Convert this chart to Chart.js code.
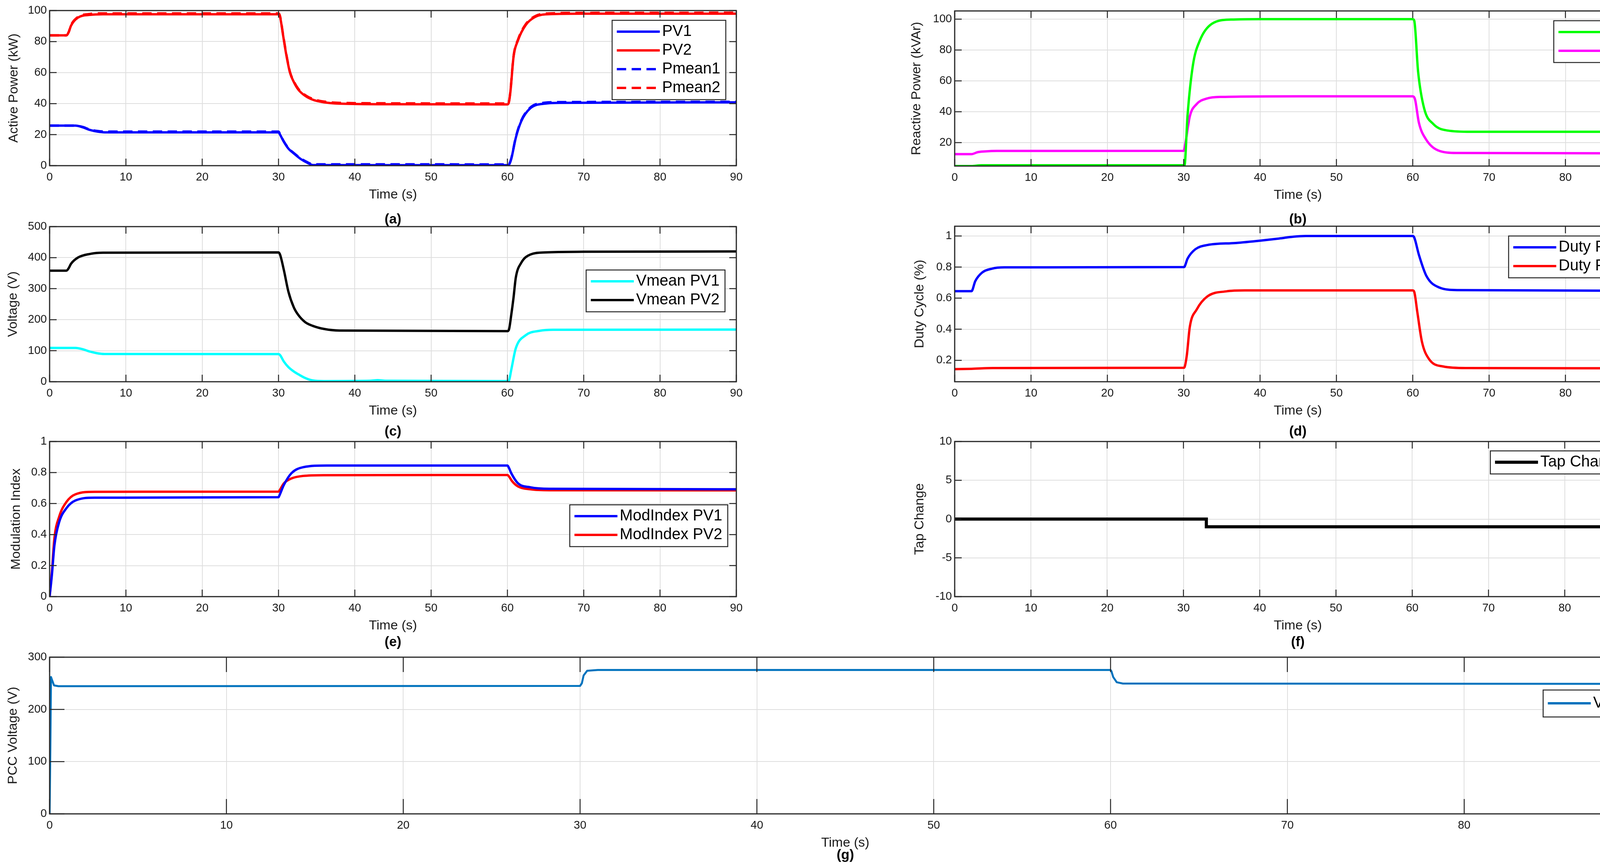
<!DOCTYPE html>
<html>
<head>
<meta charset="utf-8">
<script src="https://cdn.jsdelivr.net/npm/chart.js@4.4.1/dist/chart.umd.min.js"></script>
<style>
  html, body { margin: 0; padding: 0; background: #fff; width: 4235px; height: 2219px; overflow: hidden; }
  canvas { position: absolute; }
</style>
</head>
<body>
<canvas id="pa"></canvas>
<canvas id="pb"></canvas>
<canvas id="pc"></canvas>
<canvas id="pd"></canvas>
<canvas id="pe"></canvas>
<canvas id="pf"></canvas>
<canvas id="pg"></canvas>
<script>
// ---- tick labels ----
const xTicksFull = [0, 10, 20, 30, 40, 50, 60, 70, 80, 90];
const xTicksShort = [0, 10, 20, 30, 40, 50, 60, 70, 80];
const yTicksA = [0, 20, 40, 60, 80, 100];
const yTicksB = [20, 40, 60, 80, 100];
const yTicksC = [0, 100, 200, 300, 400, 500];
const yTicksD = [0.2, 0.4, 0.6, 0.8, 1];
const yTicksE = [0, 0.2, 0.4, 0.6, 0.8, 1];
const yTicksF = [-10, -5, 0, 5, 10];
const yTicksG = [0, 100, 200, 300];

// ---- (a) active power (kW) ----
const tP1 = [0, 3.4, 4.3, 5.3, 6.2, 7.2, 30, 30.2, 30.7, 31.3, 32, 33, 33.8, 34.5, 45, 60, 60.2, 60.5, 61.1, 61.8, 63, 64.9, 67, 90];
const pv1 = [25.8, 25.8, 24.8, 23, 22, 21.5, 21.5, 20, 15.4, 11, 7.9, 4, 1.8, 0.4, 0.3, 0.3, 0.6, 4.3, 18, 28.5, 37, 40, 40.5, 40.8];
const pmean1 = [25.8, 25.8, 25, 23.3, 22.4, 22, 22, 20.3, 15.6, 11.3, 8.2, 4.4, 2.2, 0.9, 0.9, 0.8, 1, 4.6, 18.4, 29, 37.5, 40.6, 41, 41.2];
const tP2 = [0, 2.2, 2.5, 2.8, 3.7, 5.3, 7, 30, 30.2, 30.6, 31, 31.5, 32, 32.6, 33.5, 34.5, 36, 38, 45, 60, 60.2, 60.4, 60.8, 61.4, 62.4, 63.6, 65.5, 70, 90];
const pv2 = [84, 84, 86, 90.2, 95.4, 97.2, 97.6, 97.6, 96, 84, 72, 60, 54, 49, 45, 42.5, 40.8, 40, 39.6, 39.5, 41, 48, 70, 81, 90.7, 95.8, 97.7, 98, 98];
const pmean2 = [84, 84, 86.2, 90.6, 95.8, 97.8, 98.2, 98.2, 96.5, 84.5, 72.5, 60.5, 54.4, 49.5, 45.5, 43, 41.3, 40.5, 40.2, 40.1, 41.4, 48.5, 70.5, 81.5, 91.2, 96.3, 98.2, 98.5, 98.6];

// ---- (b) reactive power (kVAr) ----
const tQ1 = [0, 2.2, 3.5, 30, 30.1, 30.5, 31.2, 32.1, 33.7, 36.2, 40, 60, 60.2, 60.7, 61.5, 62.7, 64.6, 67.6, 89.9];
const q1 = [4.8, 4.8, 5.3, 5.3, 5.3, 37.5, 70, 86, 97, 99.7, 100, 100, 99, 66, 42, 32, 27.8, 27, 27];
const tQ2 = [0, 2.2, 3, 4, 5.5, 30, 30.2, 30.8, 31.7, 33, 35, 45, 60, 60.3, 60.8, 61.7, 63.3, 65.8, 89.9];
const q2 = [12.5, 12.5, 13.8, 14.3, 14.6, 14.7, 19, 37, 45, 48.5, 49.6, 50, 50, 48, 33, 22.4, 15, 13.3, 13];

// ---- (c) PV voltage (V) ----
const tV1 = [0, 3.4, 4.3, 5.3, 6.2, 7.2, 30, 30.2, 30.7, 31.3, 32, 32.6, 33.5, 34.5, 36, 42, 43, 44, 60, 60.2, 60.5, 61.1, 62.4, 64.2, 66, 90];
const vmean1 = [109, 109, 105, 97, 92, 89.5, 89, 86, 65, 47, 33, 24, 12, 4, 2, 3, 5, 3, 2, 4, 38, 108, 150, 164, 167.5, 168];
const tV2 = [0, 2.2, 2.5, 2.8, 3.7, 5.3, 7, 30, 30.2, 30.7, 31.3, 32, 32.6, 33.5, 34.5, 36, 38, 60, 60.2, 60.5, 60.8, 61.1, 61.8, 63, 65, 70, 90];
const vmean2 = [358, 358, 366, 380, 400, 412, 416, 417, 410, 360, 290, 240, 215, 192, 180, 170, 165, 163, 168, 215, 271, 336, 383, 410, 417, 419, 420];

// ---- (d) duty cycle ----
const tD1 = [0, 2.2, 2.7, 3.6, 4.9, 6.5, 30, 30.1, 30.5, 31.5, 33.1, 36.8, 40, 42.5, 44.4, 46, 60, 60.2, 60.8, 61.8, 63.4, 65.9, 89.9];
const duty1 = [0.645, 0.645, 0.71, 0.765, 0.79, 0.798, 0.8, 0.802, 0.854, 0.914, 0.942, 0.955, 0.97, 0.984, 0.996, 1, 1, 0.99, 0.88, 0.742, 0.67, 0.652, 0.648];
const tD2 = [0, 2.2, 5, 30, 30.1, 30.4, 30.8, 31.7, 33.1, 35.6, 38, 60, 60.2, 60.6, 61.2, 62.1, 64, 67, 89.9];
const duty2 = [0.143, 0.145, 0.15, 0.152, 0.155, 0.23, 0.416, 0.527, 0.611, 0.644, 0.65, 0.65, 0.64, 0.51, 0.32, 0.21, 0.16, 0.15, 0.149];

// ---- (e) modulation index ----
const tM1 = [0, 0.3, 0.63, 1.25, 2.2, 3.4, 5.9, 30, 30.1, 30.7, 31.7, 33.2, 36.3, 60, 60.2, 60.5, 61.4, 63, 65.5, 90];
const mod1 = [0, 0.14, 0.33, 0.48, 0.57, 0.62, 0.638, 0.641, 0.65, 0.72, 0.796, 0.834, 0.845, 0.845, 0.83, 0.796, 0.73, 0.705, 0.695, 0.692];
const tM2 = [0, 0.3, 0.63, 1.25, 2.2, 3.4, 5.9, 30, 30.2, 30.7, 31.7, 33.2, 36, 60, 60.2, 60.6, 61.4, 63, 65.5, 90];
const mod2 = [0, 0.16, 0.377, 0.515, 0.61, 0.66, 0.676, 0.677, 0.69, 0.73, 0.762, 0.778, 0.783, 0.784, 0.775, 0.745, 0.71, 0.692, 0.686, 0.685];

// ---- (f) tap change ----
const tTap = [0, 33, 90];
const tap = [0, -1, -1];

// ---- (g) PCC voltage (V) ----
const tPcc = [0, 0.04, 0.08, 0.12, 0.25, 0.5, 30, 30.1, 30.2, 30.4, 31, 60, 60.05, 60.15, 60.35, 60.7, 62, 90];
const vpcc = [0, 120, 262, 258, 246, 244.5, 245, 250, 265, 274, 275.5, 275.5, 273, 262, 252, 249.5, 249.5, 249];

const pts = (t, v) => t.map((x, i) => ({ x: x, y: v[i] }));

// Fuente y colores generales
const FONT = '"Liberation Sans", Arial, Helvetica, sans-serif';
Chart.defaults.font.family = FONT;
Chart.defaults.color = '#1a1a1a';

const AXIS_W = 127;   // ancho reservado al eje y
const X_H = 110;      // alto reservado al eje x
const PAD_T = 25;
const PAD_R = 30;

function line(label, t, v, color, extra) {
  return Object.assign({
    label: label,
    data: pts(t, v),
    borderColor: color,
    backgroundColor: color,
    borderWidth: 6,
    pointRadius: 0,
    cubicInterpolationMode: 'monotone',
    borderJoinStyle: 'round',
    fill: false
  }, extra || {});
}

// Paneles de la figura
const panels = [
  { id: 'pa', L: 127, R: 1885, T: 27, B: 424, xMax: 90, xTicks: xTicksFull, yMin: 0, yMax: 100, yTicks: yTicksA,
    yTitle: 'Active Power (kW)', yTitleX: 36, tag: '(a)', tagY: 562, legRight: 27, legTop: 52, tick: 18,
    datasets: [
      line('PV1', tP1, pv1, '#0000ff', { order: 2 }),
      line('PV2', tP2, pv2, '#ff0000', { order: 2 }),
      line('Pmean1', tP1, pmean1, '#0000ff', { borderDash: [24, 14], order: 1 }),
      line('Pmean2', tP2, pmean2, '#ff0000', { borderDash: [24, 14], order: 1 })
    ] },
  { id: 'pb', L: 2444, R: 4201, T: 28, B: 425, xMax: 89.9, xTicks: xTicksShort, yMin: 4.8, yMax: 105.3, yTicks: yTicksB,
    yTitle: 'Reactive Power (kVAr)', yTitleX: 2347, tag: '(b)', tagY: 562, legRight: 28, legTop: 53, tick: 18,
    datasets: [
      line('Q1', tQ1, q1, '#00ff00'),
      line('Q2', tQ2, q2, '#ff00ff')
    ] },
  { id: 'pc', L: 127, R: 1885, T: 580, B: 977, xMax: 90, xTicks: xTicksFull, yMin: 0, yMax: 500, yTicks: yTicksC,
    yTitle: 'Voltage (V)', yTitleX: 34, tag: '(c)', tagY: 1105, legRight: 29, legTop: 691, tick: 18,
    datasets: [
      line('Vmean PV1', tV1, vmean1, '#00ffff'),
      line('Vmean PV2', tV2, vmean2, '#000000')
    ] },
  { id: 'pd', L: 2444, R: 4201, T: 579, B: 977, xMax: 89.9, xTicks: xTicksShort, yMin: 0.062, yMax: 1.063, yTicks: yTicksD,
    yTitle: 'Duty Cycle (%)', yTitleX: 2355, tag: '(d)', tagY: 1105, legRight: 28, legTop: 604, tick: 18,
    datasets: [
      line('Duty PV1', tD1, duty1, '#0000ff'),
      line('Duty PV2', tD2, duty2, '#ff0000')
    ] },
  { id: 'pe', L: 127, R: 1885, T: 1130, B: 1527, xMax: 90, xTicks: xTicksFull, yMin: 0, yMax: 1, yTicks: yTicksE,
    yTitle: 'Modulation Index', yTitleX: 42, tag: '(e)', tagY: 1644, legRight: 22, legTop: 1292, tick: 18,
    datasets: [
      line('ModIndex PV1', tM1, mod1, '#0000ff'),
      line('ModIndex PV2', tM2, mod2, '#ff0000')
    ] },
  { id: 'pf', L: 2444, R: 4201, T: 1130, B: 1527, xMax: 90, xTicks: xTicksFull, yMin: -10, yMax: 10, yTicks: yTicksF,
    yTitle: 'Tap Change', yTitleX: 2355, tag: '(f)', tagY: 1644, legRight: 28, legTop: 1154, tick: 18,
    datasets: [
      line('Tap Change', tTap, tap, '#000000', { stepped: true, borderWidth: 8, cubicInterpolationMode: 'default', borderJoinStyle: 'miter' })
    ] },
  { id: 'pg', L: 127, R: 4201, T: 1682, B: 2083, xMax: 90, xTicks: xTicksFull, yMin: 0, yMax: 300, yTicks: yTicksG,
    yTitle: 'PCC Voltage (V)', yTitleX: 34, tag: '(g)', tagY: 2189, legRight: 27, legTop: 1766, legH: 69, legRow0: 34, tick: 38,
    datasets: [
      line('V', tPcc, vpcc, '#0072bd', { sub: 'PCC', cubicInterpolationMode: 'default', borderWidth: 5 })
    ] }
];

function labelWidth(ctx, d) {
  ctx.font = '40px ' + FONT;
  let w = ctx.measureText(d.label).width;
  if (d.sub) {
    ctx.font = '26px ' + FONT;
    w += ctx.measureText(d.sub).width;
  }
  return w;
}

function makePlugin(p) {
  return {
    id: 'marco' + p.id,
    afterDatasetsDraw(chart) {
      // Marcas interiores y caja de los ejes
      const { ctx, chartArea: a, scales } = chart;
      const x = scales.x, y = scales.y;
      const tl = p.tick;
      ctx.save();
      ctx.strokeStyle = '#262626';
      ctx.lineWidth = 2.5;
      ctx.beginPath();
      x.ticks.forEach(t => {
        const px = x.getPixelForValue(t.value);
        ctx.moveTo(px, a.top); ctx.lineTo(px, a.top + tl);
        ctx.moveTo(px, a.bottom); ctx.lineTo(px, a.bottom - tl);
      });
      y.ticks.forEach(t => {
        const py = y.getPixelForValue(t.value);
        ctx.moveTo(a.left, py); ctx.lineTo(a.left + tl, py);
        ctx.moveTo(a.right, py); ctx.lineTo(a.right - tl, py);
      });
      ctx.stroke();
      ctx.lineWidth = 3;
      ctx.strokeRect(a.left, a.top, a.right - a.left, a.bottom - a.top);
      ctx.restore();
    },
    afterDraw(chart) {
      const { ctx, chartArea: a } = chart;
      const sets = chart.data.datasets;
      ctx.save();
      // Leyenda con recuadro
      const textW = Math.max(...sets.map(d => labelWidth(ctx, d)));
      const w = 128 + textW + 14;
      const h = p.legH || (59 + 48 * (sets.length - 1));
      const lx = a.right - p.legRight - w;
      const ly = p.legTop - p.ct;
      ctx.fillStyle = '#ffffff';
      ctx.fillRect(lx, ly, w, h);
      ctx.strokeStyle = '#262626';
      ctx.lineWidth = 2.5;
      ctx.strokeRect(lx, ly, w, h);
      sets.forEach((d, i) => {
        const cy = ly + (p.legRow0 || 29) + 48 * i;
        ctx.beginPath();
        ctx.setLineDash(d.borderDash || []);
        ctx.strokeStyle = d.borderColor;
        ctx.lineWidth = d.borderWidth > 6 ? 8 : 6;
        ctx.moveTo(lx + 12, cy);
        ctx.lineTo(lx + 122, cy);
        ctx.stroke();
        ctx.setLineDash([]);
        ctx.fillStyle = '#000000';
        ctx.textAlign = 'left';
        ctx.textBaseline = 'middle';
        ctx.font = '40px ' + FONT;
        ctx.fillText(d.label, lx + 128, cy);
        if (d.sub) {
          const vw = ctx.measureText(d.label).width;
          ctx.font = '26px ' + FONT;
          ctx.fillText(d.sub, lx + 128 + vw, cy + 12);
        }
      });
      // Etiqueta del panel
      ctx.font = 'bold 35px ' + FONT;
      ctx.textAlign = 'center';
      ctx.textBaseline = 'middle';
      ctx.fillStyle = '#000000';
      ctx.fillText(p.tag, (a.left + a.right) / 2, p.tagY - p.ct);
      ctx.restore();
    }
  };
}

panels.forEach(p => {
  const cl = p.L - AXIS_W;
  const ct = p.T - PAD_T;
  const cw = p.R - p.L + AXIS_W + PAD_R;
  const ch = p.tagY + 30 - ct;
  p.ct = ct;
  const canvas = document.getElementById(p.id);
  canvas.style.left = cl + 'px';
  canvas.style.top = ct + 'px';
  canvas.style.width = cw + 'px';
  canvas.style.height = ch + 'px';
  canvas.width = cw;
  canvas.height = ch;

  const yTitleSize = 34;
  new Chart(canvas, {
    type: 'line',
    data: { datasets: p.datasets },
    options: {
      responsive: false,
      animation: false,
      devicePixelRatio: 1,
      layout: { padding: { top: PAD_T, right: PAD_R, left: 0, bottom: ch - PAD_T - (p.B - p.T) - X_H } },
      plugins: { legend: { display: false }, tooltip: { enabled: false } },
      scales: {
        x: {
          type: 'linear',
          min: 0,
          max: p.xMax,
          afterBuildTicks: s => { s.ticks = p.xTicks.map(v => ({ value: v })); },
          afterFit: s => { s.height = X_H; },
          ticks: { font: { size: 29 }, color: '#1a1a1a', padding: 13, maxRotation: 0, autoSkip: false, callback: v => String(v) },
          grid: { color: '#dedede', lineWidth: 2, drawTicks: false },
          border: { display: false },
          title: { display: true, text: 'Time (s)', font: { size: 34 }, color: '#1a1a1a', padding: { top: 0, bottom: X_H - 75 - 34 * 1.2 / 2 } }
        },
        y: {
          type: 'linear',
          min: p.yMin,
          max: p.yMax,
          afterBuildTicks: s => { s.ticks = p.yTicks.map(v => ({ value: v })); },
          afterFit: s => { s.width = AXIS_W; },
          ticks: { font: { size: 29 }, color: '#1a1a1a', padding: 7, autoSkip: false, callback: v => String(v) },
          grid: { color: '#dedede', lineWidth: 2, drawTicks: false },
          border: { display: false },
          title: { display: true, text: p.yTitle, font: { size: yTitleSize }, color: '#1a1a1a', padding: { top: p.yTitleX - cl - yTitleSize * 1.2 / 2, bottom: 0 } }
        }
      }
    },
    plugins: [makePlugin(p)]
  });
});
</script>
</body>
</html>
